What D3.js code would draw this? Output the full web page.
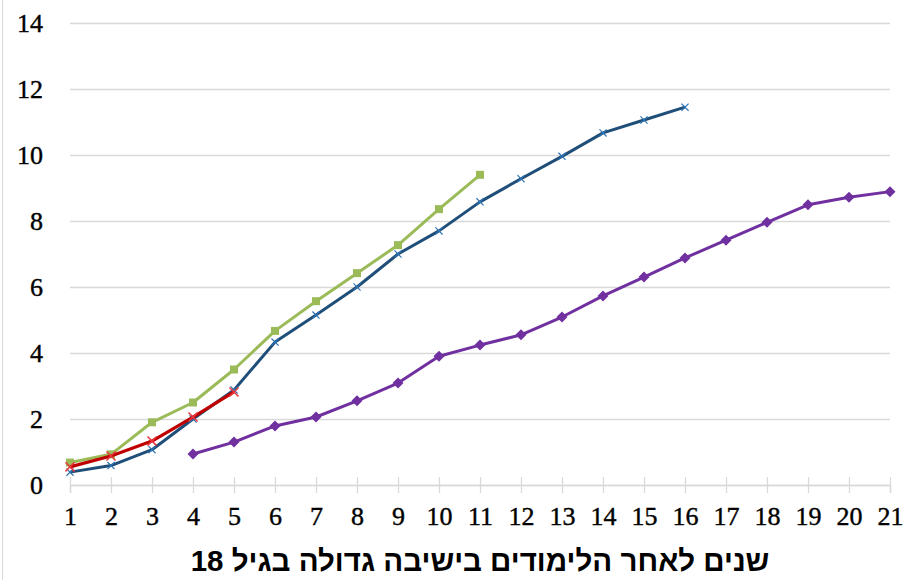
<!DOCTYPE html>
<html>
<head>
<meta charset="utf-8">
<script src="https://cdn.jsdelivr.net/npm/d3@7"></script>
<style>
  html, body { margin: 0; padding: 0; background: #fff; }
  svg { display: block; }
</style>
</head>
<body>
<svg id="chart" width="908" height="580"></svg>
<script>
// ---- data ----
const xTicks = [1,2,3,4,5,6,7,8,9,10,11,12,13,14,15,16,17,18,19,20,21];
const yTicks = [0,2,4,6,8,10,12,14];
const title = "שנים לאחר הלימודים בישיבה גדולה בגיל 18";

const greenX = [1,2,3,4,5,6,7,8,9,10,11];
const greenY = [0.68,0.93,1.9,2.5,3.5,4.67,5.57,6.42,7.27,8.36,9.4];

const blueX = [1,2,3,4,5,6,7,8,9,10,11,12,13,14,15,16];
const blueY = [0.39,0.59,1.07,2.0,2.88,4.33,5.15,6.0,7.0,7.7,8.58,9.28,9.96,10.67,11.06,11.45];

const redX = [1,2,3,4,5];
const redY = [0.55,0.88,1.33,2.06,2.82];

const purpleX = [4,5,6,7,8,9,10,11,12,13,14,15,16,17,18,19,20,21];
const purpleY = [0.94,1.3,1.79,2.06,2.55,3.09,3.9,4.24,4.55,5.09,5.73,6.3,6.88,7.42,7.96,8.49,8.72,8.89];

// ---- layout ----
const svg = d3.select("#chart");
const x = d3.scaleLinear().domain([1, 21]).range([70, 890]);
const y = d3.scaleLinear().domain([0, 14]).range([485, 23]);
const tickFont = "Liberation Serif, Times New Roman, serif";

// chart frame (left edge visible)
svg.append("line").attr("x1", 2.5).attr("x2", 2.5).attr("y1", 0).attr("y2", 580)
  .attr("stroke", "#D9D9D9").attr("stroke-width", 1);

// gridlines + y labels
const yAxis = d3.axisLeft(y).tickValues(yTicks).tickSize(-(x.range()[1] - x.range()[0])).tickPadding(27);
const gy = svg.append("g").attr("transform", `translate(${x.range()[0]},0)`).call(yAxis);
gy.select(".domain").remove();
gy.selectAll(".tick line").attr("stroke", "#D9D9D9").attr("stroke-width", 1.3);
gy.selectAll(".tick text").attr("font-family", tickFont)
  .attr("font-size", 26).attr("fill", "#000").attr("stroke", "#000").attr("stroke-width", 0.4);

// x axis
const xAxis = d3.axisBottom(x).tickValues(xTicks).tickSize(8).tickPadding(14).tickFormat(d3.format("d"));
const gx = svg.append("g").attr("transform", `translate(0,${y(0)})`).call(xAxis);
gx.select(".domain").attr("stroke", "#D9D9D9").attr("stroke-width", 1.3);
gx.selectAll(".tick line").attr("stroke", "#D9D9D9").attr("stroke-width", 1.3).attr("y1", -8).attr("y2", 8);
gx.selectAll(".tick text").attr("font-family", tickFont)
  .attr("font-size", 26).attr("fill", "#000").attr("stroke", "#000").attr("stroke-width", 0.4);

// ---- series ----
const line = d3.line().x(d => x(d[0])).y(d => y(d[1]));
const zip = (xs, ys) => xs.map((v, i) => [v, ys[i]]);

function drawLine(data, color, width) {
  svg.append("path").datum(data).attr("d", line)
    .attr("fill", "none").attr("stroke", color).attr("stroke-width", width)
    .attr("stroke-linejoin", "round");
}

const purple = zip(purpleX, purpleY);
const blue = zip(blueX, blueY);
const green = zip(greenX, greenY);
const red = zip(redX, redY);

// purple
drawLine(purple, "#7030A0", 3);
svg.append("g").selectAll("path").data(purple).join("path")
  .attr("d", "M0,-5.5L5.5,0L0,5.5L-5.5,0Z")
  .attr("transform", d => `translate(${x(d[0])},${y(d[1])})`)
  .attr("fill", "#7030A0");

// blue
drawLine(blue, "#1F4E79", 3);
svg.append("g").selectAll("path").data(blue).join("path")
  .attr("d", d3.symbol().type(d3.symbolX).size(35))
  .attr("transform", d => `translate(${x(d[0])},${y(d[1])})`)
  .attr("fill", "none").attr("stroke", "#2E75B6").attr("stroke-width", 1.2);

// green
drawLine(green, "#9BBB59", 3);
svg.append("g").selectAll("path").data(green).join("path")
  .attr("d", d3.symbol().type(d3.symbolSquare).size(64))
  .attr("transform", d => `translate(${x(d[0])},${y(d[1])})`)
  .attr("fill", "#9BBB59");

// red
drawLine(red, "#C00000", 3.2);
svg.append("g").selectAll("path").data(red).join("path")
  .attr("d", d3.symbol().type(d3.symbolX).size(55))
  .attr("transform", d => `translate(${x(d[0])},${y(d[1])})`)
  .attr("fill", "none").attr("stroke", "#E8383D").attr("stroke-width", 1.5);

// title
svg.append("text").attr("x", 480).attr("y", 571)
  .attr("text-anchor", "middle").attr("direction", "rtl")
  .attr("font-family", "Liberation Sans, DejaVu Sans, sans-serif")
  .attr("font-weight", "bold").attr("font-size", 29.5).attr("fill", "#000")
  .text(title);
</script>
</body>
</html>
